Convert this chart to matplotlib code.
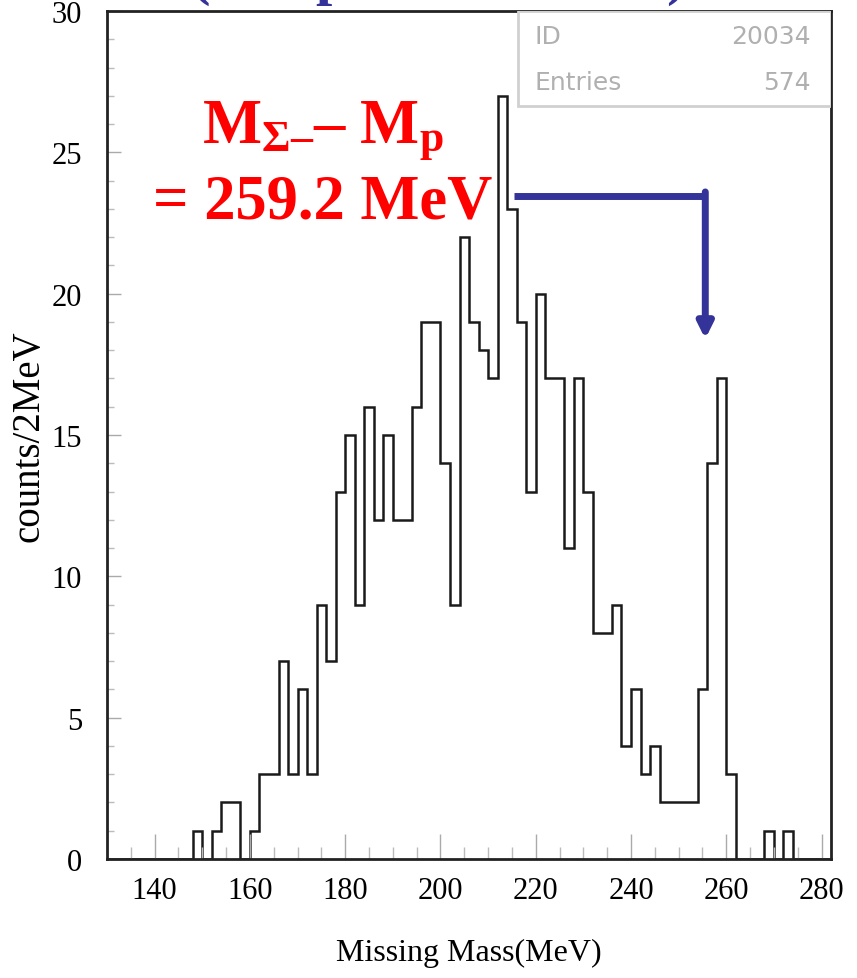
import numpy as np
import matplotlib
matplotlib.use("Agg")
import matplotlib.pyplot as plt
from matplotlib.patches import Rectangle

# histogram: 2 MeV bins from 130 to 282 MeV
bin_edges = np.arange(130, 284, 2)
counts = [0, 0, 0, 0, 0, 0, 0, 0, 0,          # 130-146
          1, 0, 1, 2, 2, 0, 1, 3, 3, 7,       # 148-166
          3, 6, 3, 9, 7, 13, 15, 9, 16, 12,   # 168-186
          15, 12, 12, 16, 19, 19, 14, 9, 22,  # 188-204
          19, 18, 17, 27, 23, 19, 13, 20, 17, # 206-222
          17, 11, 17, 13, 8, 8, 9, 4, 6,      # 224-240
          3, 4, 2, 2, 2, 2, 6, 14, 17, 3,     # 242-260
          0, 0, 0, 1, 0, 1, 0, 0, 0, 0]       # 262-280

stats_labels = ["ID", "Entries"]
stats_values = ["20034", "574"]

plt.rcParams['font.family'] = ['Liberation Serif', 'DejaVu Serif']
plt.rcParams['mathtext.fontset'] = 'custom'
plt.rcParams['mathtext.rm'] = 'Liberation Serif'
plt.rcParams['mathtext.bf'] = 'Liberation Serif:bold'
plt.rcParams['mathtext.it'] = 'Liberation Serif:italic'

fig = plt.figure(figsize=(8.57, 9.79), dpi=100)
ax = fig.add_axes([0.1249, 0.1216, 0.8448, 0.8661])

ax.stairs(counts, bin_edges, color='#1a1a1a', linewidth=1.8)

ax.set_xlim(130, 282)
ax.set_ylim(0, 30)
ax.set_xticks(np.arange(140, 281, 20))
ax.set_xticks(np.arange(135, 282, 5), minor=True)
ax.set_yticks(np.arange(0, 31, 5))
ax.set_yticks(np.arange(0, 31, 1), minor=True)

ax.tick_params(axis='x', which='major', direction='in', length=18, width=1,
               color='#aaaaaa', labelsize=22, pad=12)
ax.tick_params(axis='x', which='minor', direction='in', length=9, width=1,
               color='#bbbbbb')
ax.tick_params(axis='y', which='major', direction='in', length=10, width=1,
               color='#aaaaaa', labelsize=22, pad=18)
ax.tick_params(axis='y', which='minor', direction='in', length=5, width=1,
               color='#bbbbbb')

for sp in ax.spines.values():
    sp.set_linewidth(2)
    sp.set_color('#222222')

ax.set_xlabel('Missing Mass(MeV)', fontsize=23, labelpad=24)
ax.set_ylabel('counts/2MeV', fontsize=28, labelpad=3)

# stats box
ax.add_patch(Rectangle((0.568, 0.888), 0.432, 0.112, transform=ax.transAxes,
                       facecolor='white', edgecolor='#d0d0d0', linewidth=2,
                       zorder=3))
for i, (lab, val) in enumerate(zip(stats_labels, stats_values)):
    yy = 0.970 - i * 0.054
    ax.text(0.591, yy, lab, transform=ax.transAxes, ha='left', va='center',
            fontsize=18, color='#b0b0b0', family='DejaVu Sans', zorder=4)
    ax.text(0.972, yy, val, transform=ax.transAxes, ha='right', va='center',
            fontsize=18, color='#b0b0b0', family='DejaVu Sans', zorder=4)

# mass difference annotation
ax.text(175.3, 25.4, r"$\mathbf{M}_{\mathbf{Σ–}}\mathbf{–\ M}_{\mathbf{p}}$",
        color='red', fontsize=45, ha='center', va='baseline')
ax.text(175.3, 22.7, "= 259.2 MeV", color='red', fontsize=45,
        fontweight='bold', ha='center', va='baseline')

blue = '#333399'
ax.plot([215.4, 255.6], [23.47, 23.47], color=blue, linewidth=5,
        solid_capstyle='butt', clip_on=False)
ax.annotate('', xy=(255.6, 18.4), xytext=(255.6, 23.6),
            arrowprops=dict(arrowstyle='-|>,head_width=0.45,head_length=0.9',
                            color=blue, linewidth=5, shrinkA=0, shrinkB=0))

# title remnants, clipped by the top edge as in the original slide
for xf, s in [(200 / 857, "("), (332 / 857, "p"), (676 / 857, ")")]:
    fig.text(xf, 1.006, s, color=blue, fontsize=42, fontweight='bold',
             ha='center', va='baseline')

fig.savefig('out.png', dpi=100)
